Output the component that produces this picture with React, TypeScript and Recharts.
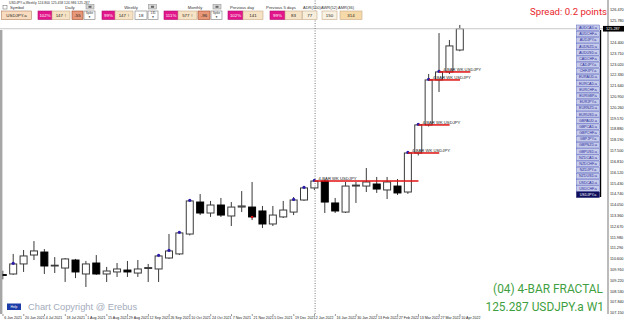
import React from 'react';
import { ComposedChart, Bar, XAxis, YAxis, ReferenceLine } from 'recharts';

// ---- data (weekly USDJPY.a candles, index 0 = week of 6 Jun 2021) ----
const weekIndex = [0,1,2,3,4,5,6,7,8,9,10,11,12,13,14,15,16,17,18,19,20,21,22,23,24,25,26,27,28,29,30,31,32,33,34,35,36,37,38,39,40,41,42,43,44];
const opens = [109.60,109.64,110.28,110.85,111.04,110.15,110.02,110.53,109.64,110.34,109.64,109.77,109.89,109.70,109.99,109.96,110.66,110.92,112.19,114.23,113.53,114.04,113.34,113.91,113.91,113.66,112.83,113.28,113.59,114.36,115.13,115.57,114.17,113.59,115.25,115.25,115.38,115.00,115.25,114.87,117.36,119.15,122.02,122.53,123.93];
const highs = [109.85,110.92,111.17,111.74,111.23,110.72,110.66,110.60,110.47,110.85,110.09,110.34,110.47,110.53,110.28,110.85,112.19,112.32,114.40,114.74,114.30,114.49,114.23,114.93,115.51,113.98,113.98,114.30,114.55,115.20,115.62,115.65,114.49,115.51,115.51,116.40,115.83,115.83,115.70,117.45,119.25,122.40,125.01,124.57,125.53];
const lows = [109.30,109.58,109.77,110.53,109.64,109.70,109.13,109.38,108.81,109.58,109.13,109.45,109.45,109.45,109.13,109.13,110.60,110.85,112.10,113.40,113.28,113.28,112.70,113.59,113.08,112.57,112.70,113.21,113.40,114.30,115.00,113.53,113.53,113.53,114.17,114.87,114.81,114.42,114.68,114.75,117.20,119.05,121.25,122.40,123.85];
const closes = [109.55,110.28,110.79,111.11,110.15,110.20,110.60,109.77,110.28,109.64,109.83,109.96,109.77,109.96,110.05,110.79,111.11,112.26,114.30,113.53,114.04,113.40,113.91,113.98,113.28,112.83,113.40,113.72,114.36,115.13,115.57,114.23,113.66,115.25,115.31,115.51,115.06,115.51,114.81,117.36,119.15,122.02,122.53,124.19,125.287];
const upFractalIdx = [1,15,16,17,18,28,29,30,39,40,41,42];
const downFractalIdx = [24];

const dateTickIdx = [0,2,4,6,8,10,12,14,16,18,20,22,24,26,28,30,32,34,36,38,40,42,44];
const dateLabels = ['6 Jun 2021','20 Jun 2021','4 Jul 2021','18 Jul 2021','1 Aug 2021','15 Aug 2021','29 Aug 2021','12 Sep 2021','26 Sep 2021','10 Oct 2021','24 Oct 2021','7 Nov 2021','21 Nov 2021','5 Dec 2021','19 Dec 2021','2 Jan 2022','16 Jan 2022','30 Jan 2022','13 Feb 2022','27 Feb 2022','13 Mar 2022','27 Mar 2022','10 Apr 2022'];
const priceTicks = [126.47,125.78,124.40,123.71,123.02,122.33,121.64,120.95,120.26,119.57,118.88,118.19,117.50,116.81,116.12,115.43,114.74,114.05,113.36,112.67,111.98,111.29,110.60,109.91,109.22,108.53,107.84,107.15];
const bidPrice = 125.287;
const yearSeparatorIdx = 30.05;

const fractalLevels = [115.57,117.36,119.15,122.02,122.53];
const fractalStart = [30,39,40,41,42];
const fractalEnd = [40,42,43,44,45];
const fractalText = '4-BAR WK USDJPY';

const symbolButtons = ['AUDCAD.a','AUDCHF.a','AUDJPY.a','AUDNZD.a','AUDUSD.a','CADCHF.a','CADJPY.a','CHFJPY.a','EURAUD.a','EURCAD.a','EURCHF.a','EURGBP.a','EURJPY.a','EURNZD.a','EURUSD.a','GBPAUD.a','GBPCAD.a','GBPCHF.a','GBPJPY.a','GBPNZD.a','GBPUSD.a','NZDCAD.a','NZDCHF.a','NZDJPY.a','NZDUSD.a','USDCAD.a','USDCHF.a','USDJPY.a'];

const candles = weekIndex.map((i) => ({
  i,
  open: opens[i],
  high: highs[i],
  low: lows[i],
  close: closes[i],
  mark: upFractalIdx.includes(i) ? 'up' : downFractalIdx.includes(i) ? 'down' : '',
}));

const FONT = '"Liberation Sans", Arial, sans-serif';

const Candle = (props: any) => {
  const { x, y, width, height, payload } = props;
  if (x == null || !payload) return null;
  const { open, close, high, low, mark } = payload;
  const top0 = Math.min(y, y + height);
  const h = Math.abs(height);
  const cx = x + width / 2;
  const r = high - low === 0 ? 0 : h / (high - low);
  const py = (v: number) => top0 + (high - v) * r;
  const bTop = py(Math.max(open, close));
  const bBot = py(Math.min(open, close));
  const bull = close >= open;
  return (
    <g>
      <line x1={cx} x2={cx} y1={top0} y2={top0 + h} stroke="#3a3a3a" strokeWidth={1} />
      <rect x={cx - 3.5} y={bTop} width={7} height={Math.max(bBot - bTop, 0.8)} fill={bull ? '#ffffff' : '#000000'} stroke={bull ? '#3a3a3a' : '#000'} strokeWidth={1} />
      {mark === 'up' && <circle cx={cx} cy={py(close) - 0.6} r={1.6} fill="#2b1ca8" />}
      {mark === 'down' && <circle cx={cx} cy={py(close)} r={1.3} fill="#d41414" />}
    </g>
  );
};

const DateTick = (props: any) => {
  const { x, payload } = props;
  const k = dateTickIdx.indexOf(payload.value);
  return (
    <g>
      <line x1={x} x2={x} y1={314} y2={316} stroke="#555" strokeWidth={0.6} />
      <text x={x + 1.2} y={318.8} fontSize={3.6} fill="#222" fontFamily={FONT}>{dateLabels[k]}</text>
    </g>
  );
};

const PriceTick = (props: any) => {
  const { y, payload } = props;
  const v = payload.value;
  if (v === bidPrice) {
    return (
      <g>
        <rect x={603} y={y - 2.8} width={21} height={5.6} fill="#000" />
        <text x={606} y={y + 1.3} fontSize={3.8} fill="#fff" fontFamily={FONT}>{v.toFixed(3)}</text>
      </g>
    );
  }
  return (
    <text x={610} y={y + 1.3} fontSize={3.8} fill="#222" fontFamily={FONT}>{v.toFixed(3)}</text>
  );
};

const FractalLabel = (p: any) => {
  const vb = p.viewBox || {};
  return (
    <text x={(vb.x || 0) + 4} y={(vb.y || 0) - 1.3} fontSize={4.2} fill="#222" fontFamily={FONT}>{fractalText}</text>
  );
};

const Box = ({ x, w, fill, stroke, text, color = '#222', fs = 4.4 }: any) => (
  <g>
    <rect x={x} y={11} width={w} height={8.5} fill={fill} stroke={stroke} strokeWidth={0.6} />
    <text x={x + w / 2} y={16.7} fontSize={fs} textAnchor="middle" fill={color} fontFamily={FONT}>{text}</text>
  </g>
);

const TwoLine = ({ x, w, a, b }: any) => (
  <g>
    <rect x={x} y={11} width={w} height={8.5} fill="#fff" stroke="#777" strokeWidth={0.6} />
    <text x={x + w / 2} y={14.4} fontSize={3} textAnchor="middle" fill="#333" fontFamily={FONT}>{a}</text>
    <text x={x + w / 2} y={18.4} fontSize={3} textAnchor="middle" fill="#333" fontFamily={FONT}>{b}</text>
  </g>
);

const MiniBtn = ({ x }: any) => (
  <g>
    <rect x={x} y={4.5} width={8} height={4.5} fill="#d6d6d6" stroke="#888" strokeWidth={0.5} />
    <rect x={x + 2.5} y={5.8} width={3} height={2} fill="#666" />
  </g>
);

const Label = ({ x, text }: any) => (
  <text x={x} y={9} fontSize={4.2} textAnchor="middle" fill="#333" fontFamily={FONT}>{text}</text>
);

const MAG = '#e2168a';
const BEIGE = '#f6e2c4';
const BEIGE_S = '#c7a987';
const SALMON = '#e89878';

export default function App() {
  return (
    <div style={{ position: 'absolute', left: 0, top: 0, width: 625, height: 321, background: '#fff', overflow: 'hidden' }}>
      <ComposedChart width={625} height={321} data={candles} margin={{ top: 0, right: 0, left: 0, bottom: 0 }}>
        <XAxis
          dataKey="i"
          type="number"
          domain={[-0.289, 58.25]}
          allowDataOverflow
          ticks={dateTickIdx}
          interval={0}
          tick={<DateTick />}
          height={7}
          axisLine={false}
          tickLine={false}
        />
        <YAxis
          orientation="right"
          type="number"
          domain={[107.087, 127.12]}
          allowDataOverflow
          ticks={[...priceTicks, bidPrice]}
          interval={0}
          tick={<PriceTick />}
          width={17}
          axisLine={{ stroke: '#555', strokeWidth: 0.8 }}
          tickLine={false}
        />
        <ReferenceLine y={bidPrice} stroke="#c8c8c8" strokeWidth={1} />
        <ReferenceLine x={yearSeparatorIdx} stroke="#7a7a7a" strokeDasharray="1 1.5" strokeWidth={1} />
        <Bar dataKey={(d: any) => [d.low, d.high]} shape={<Candle />} barSize={8} isAnimationActive={false} />
        {fractalLevels.map((lv, k) => (
          <ReferenceLine
            key={k}
            segment={[{ x: fractalStart[k], y: lv }, { x: fractalEnd[k], y: lv }]}
            stroke="#e01010"
            strokeWidth={1.5}
            ifOverflow="visible"
            label={FractalLabel}
          />
        ))}
      </ComposedChart>

      <svg width={625} height={321} style={{ position: 'absolute', left: 0, top: 0, pointerEvents: 'none' }}>
        {/* left frame */}
        <rect x={0} y={30} width={2.4} height={284} fill="#a6a6a6" />
        {/* header */}
        <text x={9} y={3.8} fontSize={3.4} fill="#333" fontFamily={FONT}>USDJPY.a,Weekly  124.800 125.458 124.986 125.287</text>
        <rect x={3} y={5.5} width={4} height={3.5} fill="#fff" stroke="#666" strokeWidth={0.5} />
        <Label x={17} text="Symbol" />
        <Label x={70} text="Daily" />
        <MiniBtn x={86} />
        <Label x={131} text="Weekly" />
        <MiniBtn x={148.5} />
        <Label x={195} text="Monthly" />
        <MiniBtn x={213} />
        <Label x={242} text="Previous day" />
        <Label x={281} text="Previous 5 days" />
        <text x={303} y={9} fontSize={4} fill="#333" fontFamily={FONT}>ADR(100)</text>
        <text x={321} y={9} fontSize={4} fill="#333" fontFamily={FONT}>AWR(52)</text>
        <text x={338} y={9} fontSize={4} fill="#333" fontFamily={FONT}>AMR(36)</text>

        <Box x={1.5} w={30} fill="#f9dcc0" stroke="#b08060" text="USDJPY.a" />
        <Box x={38} w={14} fill={MAG} stroke="#b01070" text="102%" color="#fff" />
        <Box x={52} w={18} fill={BEIGE} stroke={BEIGE_S} text="147 ↑" />
        <Box x={72} w={11} fill={SALMON} stroke="#a04a2a" text="-55" />
        <TwoLine x={84} w={11} a="Spike" b="▼" />

        <Box x={102} w={13} fill={MAG} stroke="#b01070" text="99%" color="#fff" />
        <Box x={115} w={18} fill={BEIGE} stroke={BEIGE_S} text="147 ↑" />
        <Box x={135} w={12} fill="#fff" stroke="#777" text="18" />
        <TwoLine x={148} w={10} a="135" b="▼" />

        <Box x={164} w={14} fill={MAG} stroke="#b01070" text="111%" color="#fff" />
        <Box x={178} w={19} fill={BEIGE} stroke={BEIGE_S} text="577 ↑" />
        <Box x={198} w={12} fill={SALMON} stroke="#a04a2a" text="-96" />
        <TwoLine x={211} w={11} a="Spike" b="▼" />

        <Box x={228} w={15} fill={MAG} stroke="#b01070" text="102%" color="#fff" />
        <Box x={243} w={20} fill={BEIGE} stroke={BEIGE_S} text="141" />
        <Box x={270} w={15} fill={MAG} stroke="#b01070" text="99%" color="#fff" />
        <Box x={285} w={17} fill={BEIGE} stroke={BEIGE_S} text="83" />

        <Box x={302.5} w={14.5} fill="#f7eedc" stroke={BEIGE_S} text="77" />
        <Box x={322} w={15} fill="#f9f2e2" stroke={BEIGE_S} text="150" />
        <Box x={340} w={22} fill="#f6d9a8" stroke={BEIGE_S} text="314" />

        <text x={607} y={14.5} fontSize={9.6} textAnchor="end" fill="#e8262a" fontFamily="Roboto, sans-serif">Spread: 0.2 points</text>

        {/* symbol buttons */}
        {symbolButtons.map((s, k) => {
          const sel = s === 'USDJPY.a';
          const yy = 25 + k * 6.18;
          return (
            <g key={s}>
              <rect x={576.5} y={yy} width={23} height={5.6} fill={sel ? '#0e0e5c' : '#c7cbea'} stroke={sel ? '#0e0e5c' : '#5a66c0'} strokeWidth={0.5} />
              <text x={588} y={yy + 4} fontSize={3.6} textAnchor="middle" fill={sel ? '#fff' : '#1e2a9a'} fontFamily={FONT}>{s}</text>
            </g>
          );
        })}
        <rect x={600} y={30} width={1.2} height={167} fill="#000" />

        {/* bottom texts */}
        <text x={603} y={293} fontSize={11.9} textAnchor="end" fill="#3f9f3f" fontFamily="Roboto, sans-serif">(04) 4-BAR FRACTAL</text>
        <text x={604} y={311} fontSize={11.9} textAnchor="end" fill="#3f9f3f" fontFamily="Roboto, sans-serif">125.287 USDJPY.a W1</text>
        <rect x={7} y={303.5} width={14} height={6.5} fill="#1c3ca8" />
        <text x={14} y={308} fontSize={3.4} textAnchor="middle" fill="#fff" fontFamily={FONT}>Help</text>
        <text x={28} y={310} fontSize={9.3} fill="#a4acbc" fontFamily={FONT}>Chart Copyright @ Erebus</text>
      </svg>
    </div>
  );
}
